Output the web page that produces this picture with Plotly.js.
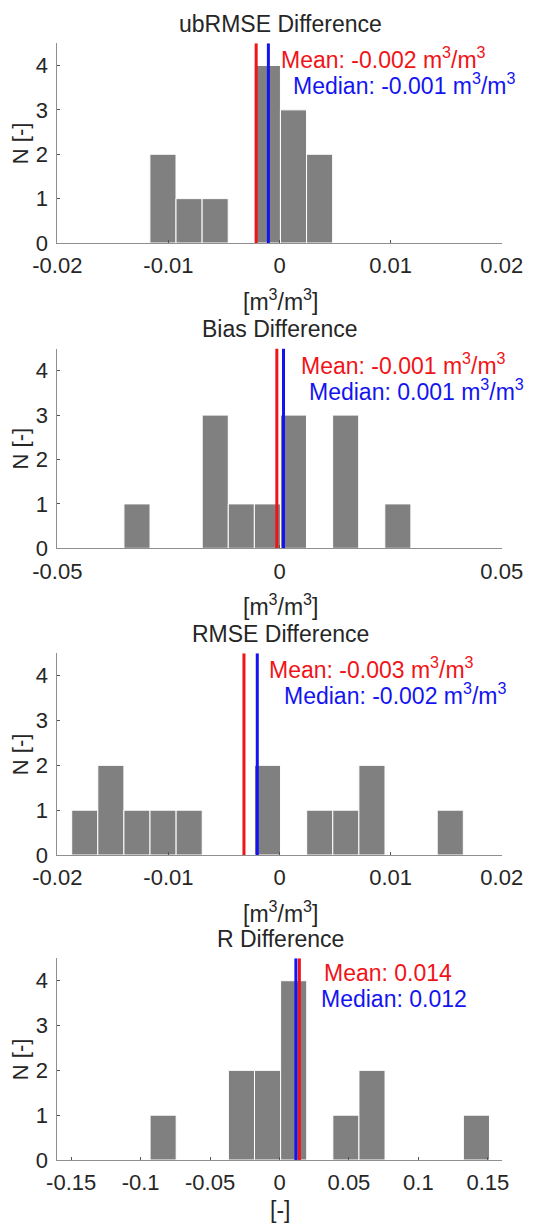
<!DOCTYPE html>
<html>
<head>
<meta charset="utf-8">
<script src="https://cdn.plot.ly/plotly-3.0.1.min.js"></script>
<style>html,body{margin:0;padding:0;background:#fff;}#chart{width:539px;height:1224px;}</style>
</head>
<body>
<div id="chart"></div>
<script>
// ---- Data ----
const panelTitles = ["ubRMSE Difference", "Bias Difference", "RMSE Difference", "R Difference"];
const xLabels = ["[m<sup>3</sup>/m<sup>3</sup>]", "[m<sup>3</sup>/m<sup>3</sup>]", "[m<sup>3</sup>/m<sup>3</sup>]", "[-]"];
const unitSuffix = [" m<sup>3</sup>/m<sup>3</sup>", " m<sup>3</sup>/m<sup>3</sup>", " m<sup>3</sup>/m<sup>3</sup>", ""];

const binWidths = [0.00235, 0.00587, 0.00235, 0.0188];

const ubrmseCenters = [-0.01049, -0.00814, -0.00579, -0.00344, -0.00109, 0.00126, 0.00361];
const ubrmseCounts  = [2, 1, 1, 0, 4, 3, 2];

const biasCenters = [-0.03207, -0.0262, -0.02033, -0.01446, -0.00859, -0.00272, 0.00315, 0.00902, 0.01489, 0.02076, 0.02663];
const biasCounts  = [1, 0, 0, 3, 1, 1, 3, 0, 3, 0, 1];

const rmseCenters = [-0.01753, -0.01518, -0.01283, -0.01048, -0.00813, -0.00578, -0.00343, -0.00108, 0.00127, 0.00362, 0.00597, 0.00832, 0.01067, 0.01302, 0.01537];
const rmseCounts  = [1, 2, 1, 1, 1, 0, 0, 2, 0, 1, 1, 2, 0, 0, 1];

const rCenters = [-0.0838, -0.065, -0.0462, -0.0274, -0.0086, 0.0102, 0.029, 0.0478, 0.0666, 0.0854, 0.1042, 0.123, 0.1418];
const rCounts  = [1, 0, 0, 2, 2, 4, 0, 1, 2, 0, 0, 0, 1];

const meanVals   = [-0.0021, -0.0006, -0.0032, 0.0143];
const medianVals = [-0.0010, 0.0009, -0.0020, 0.0118];

const xRanges = [[-0.02, 0.02], [-0.05, 0.05], [-0.02, 0.02], [-0.16, 0.16]];
const xTickVals = [
  [-0.02, -0.01, 0, 0.01, 0.02],
  [-0.05, 0, 0.05],
  [-0.02, -0.01, 0, 0.01, 0.02],
  [-0.15, -0.1, -0.05, 0, 0.05, 0.1, 0.15]
];
const xTickText = [
  ["-0.02", "-0.01", "0", "0.01", "0.02"],
  ["-0.05", "0", "0.05"],
  ["-0.02", "-0.01", "0", "0.01", "0.02"],
  ["-0.15", "-0.1", "-0.05", "0", "0.05", "0.1", "0.15"]
];
const yTickVals = [0, 1, 2, 3, 4];
const yTickText = ["0", "1", "2", "3", "4"];
const yLabel = "N [-]";

// ---- Layout helpers (pixel geometry) ----
const W = 539, H = 1224;
const FONT = "Liberation Sans, Arial, Helvetica, sans-serif";
const TXT = "#262626";
const RED = "rgb(240,20,25)";
const BLUE = "rgb(20,20,240)";
const plotLeft = 57.3, plotRight = 501.7;
const panelTop = [43.3, 348.5, 653.3, 958.3];
const panelBottom = [243, 548.3, 855, 1160];
const px = v => v / W;
const py = v => 1 - v / H;

const centers = [ubrmseCenters, biasCenters, rmseCenters, rCenters];
const counts = [ubrmseCounts, biasCounts, rmseCounts, rCounts];

const data = [];
const layout = {
  width: W, height: H,
  margin: {l: 0, r: 0, t: 0, b: 0},
  paper_bgcolor: "#fff", plot_bgcolor: "rgba(0,0,0,0)",
  showlegend: false,
  font: {family: FONT, color: TXT, size: 22},
  shapes: [], annotations: []
};

for (let i = 0; i < 4; i++) {
  const n = i + 1;
  const xa = n === 1 ? "x" : "x" + n;
  const ya = n === 1 ? "y" : "y" + n;
  data.push({
    type: "bar", x: centers[i], y: counts[i], width: binWidths[i],
    xaxis: xa, yaxis: ya,
    marker: {color: "#808080", line: {color: "#ffffff", width: 1}},
    hoverinfo: "x+y"
  });
  const axX = {
    domain: [px(plotLeft), px(plotRight)],
    anchor: ya, range: xRanges[i],
    tickmode: "array", tickvals: xTickVals[i], ticktext: xTickText[i],
    ticks: "inside", ticklen: 3, tickwidth: 1, tickcolor: "#555",
    showline: true, linecolor: "#8f8f8f", linewidth: 1,
    showgrid: false, zeroline: false, fixedrange: true,
    tickfont: {family: FONT, size: 22, color: TXT},
    ticklabelstandoff: 3
  };
  const axY = {
    domain: [py(panelBottom[i]), py(panelTop[i])],
    anchor: xa, range: [0, 4.5],
    tickmode: "array", tickvals: yTickVals, ticktext: yTickText,
    ticks: "inside", ticklen: 3, tickwidth: 1, tickcolor: "#555",
    showline: true, linecolor: "#8f8f8f", linewidth: 1,
    showgrid: false, zeroline: false, fixedrange: true,
    tickfont: {family: FONT, size: 22, color: TXT},
    ticklabelstandoff: 4
  };
  layout[n === 1 ? "xaxis" : "xaxis" + n] = axX;
  layout[n === 1 ? "yaxis" : "yaxis" + n] = axY;

  // mean / median lines
  layout.shapes.push({type: "line", xref: xa, yref: ya, x0: meanVals[i], x1: meanVals[i], y0: 0, y1: 4.5,
    line: {color: RED, width: 3}, layer: "above"});
  layout.shapes.push({type: "line", xref: xa, yref: ya, x0: medianVals[i], x1: medianVals[i], y0: 0, y1: 4.5,
    line: {color: BLUE, width: 3}, layer: "above"});

  const top = panelTop[i], bot = panelBottom[i];
  const meanX = [279, 299, 267, 322][i];
  const medX = [291, 307, 282, 319][i];
  const ann = (text, x, y, opts) => Object.assign({
    text: text, xref: "paper", yref: "paper", x: px(x), y: py(y),
    showarrow: false, xanchor: "center", yanchor: "middle",
    font: {family: FONT, size: 23, color: TXT}
  }, opts || {});
  layout.annotations.push(ann(panelTitles[i], 280, top - 19));
  layout.annotations.push(ann("Mean: " + meanVals[i].toFixed(3) + unitSuffix[i], meanX, top + 15,
    {xanchor: "left", font: {family: FONT, size: 23, color: RED}}));
  layout.annotations.push(ann("Median: " + medianVals[i].toFixed(3) + unitSuffix[i], medX, top + 41,
    {xanchor: "left", font: {family: FONT, size: 23, color: BLUE}}));
  layout.annotations.push(ann(xLabels[i], 280, i === 3 ? bot + 50 : bot + 57));
  layout.annotations.push(ann(yLabel, 20, (top + bot) / 2, {textangle: -90, font: {family: FONT, size: 22, color: TXT}}));
}

Plotly.newPlot("chart", data, layout, {staticPlot: true, displayModeBar: false});
</script>
</body>
</html>
